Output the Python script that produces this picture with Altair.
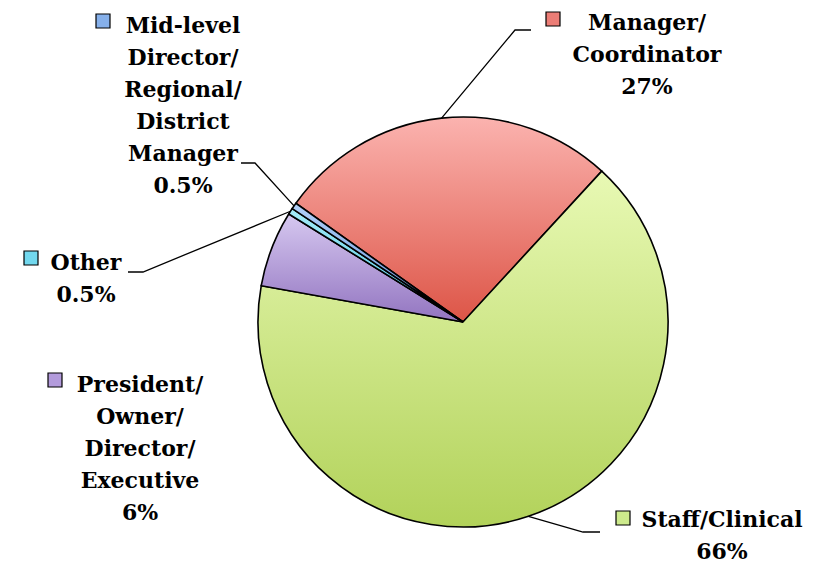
import math
import altair as alt
import pandas as pd

# ---------------- data ----------------
categories = [
    "Manager/Coordinator",
    "Staff/Clinical",
    "President/Owner/Director/Executive",
    "Other",
    "Mid-level Director/Regional/District Manager",
]
values = [27, 66, 6, 0.5, 0.5]
pct_labels = ["27%", "66%", "6%", "0.5%", "0.5%"]
label_lines = [
    ["Manager/", "Coordinator"],
    ["Staff/Clinical"],
    ["President/", "Owner/", "Director/", "Executive"],
    ["Other"],
    ["Mid-level", "Director/", "Regional/", "District", "Manager"],
]

# ---------------- layout / style ----------------
W, H = 807, 555
CX, CY, R = 455, 314, 205
START_DEG = 305.4
A0 = math.radians(START_DEG)
FONT = "DejaVu Serif"

grad_colors = [
    ("#fbb3af", "#dd5547"),
    ("#e8f9b4", "#b2d25a"),
    ("#d6c8f0", "#9274c0"),
    ("#a6ecf8", "#45c2de"),
    ("#b2d0f8", "#5a8ed8"),
]
square_colors = ["#ec7d76", "#cdea8c", "#b39bdc", "#72d8ee", "#86b0ea"]

label_pos = [(639, 22), (714, 519), (132, 384), (78, 262), (175, 25)]
square_pos = [(545, 11), (615, 510), (47, 372), (23, 250), (95, 13)]
leader_elbows = {
    0: [(523, 22), (507, 22)],
    1: [(592, 524), (575, 524)],
    3: [(120, 264), (135, 264)],
    4: [(233, 155), (247, 155)],
}

df = pd.DataFrame({"category": categories, "value": values, "order": list(range(len(categories)))})

lab = pd.DataFrame({
    "category": categories,
    "text": [lines + [p] for lines, p in zip(label_lines, pct_labels)],
    "x": [p[0] for p in label_pos],
    "y": [p[1] for p in label_pos],
})
sq = pd.DataFrame({
    "category": categories,
    "x": [p[0] for p in square_pos],
    "y": [p[1] for p in square_pos],
})

rows = []
total = sum(values)
cum = 0
for i, v in enumerate(values):
    mid = A0 + 2 * math.pi * (cum + v / 2) / total
    cum += v
    if i in leader_elbows:
        pts = leader_elbows[i] + [(CX + R * math.sin(mid), CY - R * math.cos(mid))]
        for j, (px, py) in enumerate(pts):
            rows.append({"category": categories[i], "idx": j, "x": px, "y": py})
lead = pd.DataFrame(rows)

xs = alt.Scale(domain=[0, W], range=[0, W])
ys = alt.Scale(domain=[0, H], range=[0, H])
theta_scale = alt.Scale(domain=[0, total], range=[A0, A0 + 2 * math.pi])


def grad(c1, c2):
    return alt.Gradient(
        gradient="linear",
        stops=[alt.GradientStop(color=c1, offset=0), alt.GradientStop(color=c2, offset=1)],
        x1=0, y1=0, x2=0, y2=1,
    )


base = (
    alt.Chart(df)
    .transform_window(cum="sum(value)", sort=[alt.SortField("order")])
    .transform_calculate(start="datum.cum - datum.value")
)

layers = []
for cat, (c1, c2) in zip(categories, grad_colors):
    layers.append(
        base.transform_filter(alt.datum.category == cat)
        .mark_arc(outerRadius=R, fill=grad(c1, c2), stroke="black", strokeWidth=1.6)
        .encode(
            theta=alt.Theta("start:Q", scale=theta_scale),
            theta2="cum:Q",
            x=alt.value(CX),
            y=alt.value(CY),
        )
    )

lines = alt.Chart(lead).mark_line(color="black", strokeWidth=1.3).encode(
    x=alt.X("x:Q", scale=xs, axis=None),
    y=alt.Y("y:Q", scale=ys, axis=None),
    detail="category:N",
    order="idx:Q",
)

texts = alt.Chart(lab).mark_text(
    font=FONT, fontWeight="bold", fontSize=22, lineHeight=32,
    align="center", baseline="alphabetic", color="black",
).encode(
    x=alt.X("x:Q", scale=xs, axis=None),
    y=alt.Y("y:Q", scale=ys, axis=None),
    text="text",
)

squares = alt.Chart(sq).mark_square(size=196, opacity=1, stroke="black", strokeWidth=1.2).encode(
    x=alt.X("x:Q", scale=xs, axis=None),
    y=alt.Y("y:Q", scale=ys, axis=None),
    color=alt.Color("category:N", scale=alt.Scale(domain=categories, range=square_colors), legend=None),
)

chart = (
    alt.layer(*layers, lines, texts, squares)
    .properties(width=W, height=H, padding=0, autosize=alt.AutoSizeParams(type="none"))
    .configure_view(stroke=None)
)

chart.save("out.html", embed_options={"renderer": "svg", "actions": False})
